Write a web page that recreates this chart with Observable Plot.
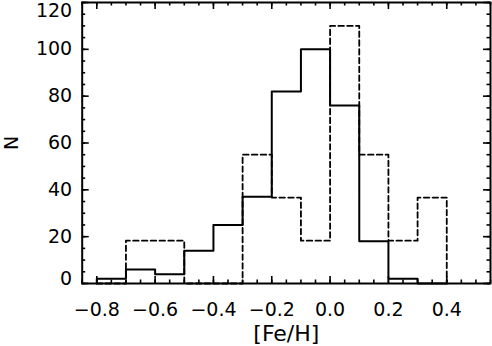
<!DOCTYPE html>
<html><head><meta charset="utf-8">
<script src="https://cdn.jsdelivr.net/npm/d3@7"></script>
<script src="https://cdn.jsdelivr.net/npm/@observablehq/plot@0.6"></script>
<style>html,body{margin:0;padding:0;background:#fff} svg{display:block}</style>
</head><body><div id="chart"></div>
<script>
// Bin edges of [Fe/H] histogram (width 0.1)
const binEdges = [-0.8,-0.7,-0.6,-0.5,-0.4,-0.3,-0.2,-0.1,0.0,0.1,0.2,0.3,0.4];
// Counts per bin (bin i spans binEdges[i]..binEdges[i+1])
const solidCounts  = [2, 6, 4, 14, 25, 37, 82, 100, 76, 18, 2, 0];
const dashedCounts = [0, 18.3, 18.3, 0, 0, 55, 36.7, 18.3, 110, 55, 18.3, 36.7];
// Tick labels
const xTicks = [-0.8,-0.6,-0.4,-0.2,0.0,0.2,0.4];
const yTicks = [0,20,40,60,80,100,120];

const W = 492, H = 346;
const mL = 81.7, mR = 2, mT = 2, mB = 63;
const fw = W - mL - mR, fh = H - mT - mB;
const xDomain = [-0.85, 0.55], yDomain = [0, 120];

function steps(counts) {
  const pts = [{x: binEdges[0], y: 0}];
  counts.forEach((c, i) => pts.push({x: binEdges[i], y: c}));
  pts.push({x: binEdges[binEdges.length - 1], y: 0});
  return pts;
}

const xMinor = d3.range(-0.85, 0.55 + 1e-9, 0.05).map(v => +v.toFixed(2));
const yMinor = d3.range(0, 120 + 1e-9, 5);
const majLen = 7, minLen = 3.5;
const tickStyle = {stroke: "black", strokeWidth: 1.6};
const FS = 19;

const fmt = d3.format(".1f");

const chart = Plot.plot({
  width: W, height: H,
  marginLeft: mL, marginRight: mR, marginTop: mT, marginBottom: mB,
  style: {fontFamily: "'DejaVu Sans', sans-serif", fontSize: FS + "px", background: "#fff", color: "black"},
  x: {domain: xDomain},
  y: {domain: yDomain},
  marks: [
    // histograms
    Plot.line(steps(dashedCounts), {x: "x", y: "y", curve: "step-after", stroke: "black", strokeWidth: 1.8, strokeDasharray: "5.5,3.3"}),
    Plot.line(steps(solidCounts), {x: "x", y: "y", curve: "step-after", stroke: "black", strokeWidth: 2}),
    // inward ticks: bottom & top
    Plot.ruleX(xMinor, {x: d => d, insetTop: fh - minLen, ...tickStyle}),
    Plot.ruleX(xMinor, {x: d => d, insetBottom: fh - minLen, ...tickStyle}),
    Plot.ruleX(xTicks, {x: d => d, insetTop: fh - majLen, ...tickStyle}),
    Plot.ruleX(xTicks, {x: d => d, insetBottom: fh - majLen, ...tickStyle}),
    // inward ticks: left & right
    Plot.ruleY(yMinor, {y: d => d, insetRight: fw - minLen, ...tickStyle}),
    Plot.ruleY(yMinor, {y: d => d, insetLeft: fw - minLen, ...tickStyle}),
    Plot.ruleY(yTicks, {y: d => d, insetRight: fw - majLen, ...tickStyle}),
    Plot.ruleY(yTicks, {y: d => d, insetLeft: fw - majLen, ...tickStyle}),
    // axes labels
    Plot.axisX(xTicks, {tickSize: 0, tickPadding: 19, tickFormat: fmt, fontSize: FS, label: null}),
    Plot.axisX([], {tickSize: 0, fontSize: 22,
      label: "[Fe/H]", labelAnchor: "center", labelArrow: "none", labelOffset: 57}),
    Plot.axisY(yTicks.slice(1, -1), {tickSize: 0, tickPadding: 10, fontSize: FS,
      label: "N", labelAnchor: "center", labelArrow: "none", labelOffset: 78}),
    Plot.axisY([yTicks[0]], {tickSize: 0, tickPadding: 10, fontSize: FS, dy: -5, label: null}),
    Plot.axisY([yTicks[yTicks.length - 1]], {tickSize: 0, tickPadding: 10, fontSize: FS, dy: 8.6, label: null}),
    Plot.frame({stroke: "black", strokeWidth: 2})
  ]
});
document.getElementById("chart").appendChild(chart);
</script>
</body></html>
